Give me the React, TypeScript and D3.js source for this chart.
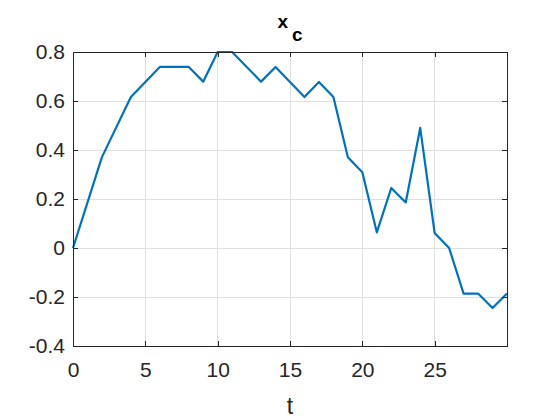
import React, { useEffect, useRef } from "react";
import * as d3 from "d3";

// sample times and values of x_c
const tValues = [0, 2, 4, 6, 8, 9, 10, 11, 13, 14, 16, 17, 18, 19, 20, 21, 22, 23, 24, 25, 26, 27, 28, 29, 30];
const xcValues = [0, 0.371, 0.616, 0.739, 0.739, 0.679, 0.8, 0.8, 0.679, 0.739, 0.616, 0.678, 0.616, 0.37, 0.309, 0.064, 0.245, 0.186, 0.49, 0.061, 0, -0.186, -0.186, -0.245, -0.186];
const xTicks = [0, 5, 10, 15, 20, 25];
const yTicks = [-0.4, -0.2, 0, 0.2, 0.4, 0.6, 0.8];

const App = () => {
  const ref = useRef<SVGSVGElement>(null);

  useEffect(() => {
    const width = 560, height = 420;
    const margin = { top: 52, right: 53, bottom: 74, left: 73 };
    const w = width - margin.left - margin.right;
    const h = height - margin.top - margin.bottom;
    const font = "'Liberation Sans', Arial, sans-serif";
    const axisColor = "#262626";

    const svg = d3.select(ref.current);
    svg.selectAll("*").remove();

    const g = svg.append("g").attr("transform", "translate(" + margin.left + "," + margin.top + ")");

    const x = d3.scaleLinear().domain([0, 30]).range([0, w]);
    const y = d3.scaleLinear().domain([-0.4, 0.8]).range([h, 0]);

    // grid
    g.append("g").selectAll("line").data(xTicks.filter(d => d > 0)).enter().append("line")
      .attr("x1", d => x(d)).attr("x2", d => x(d)).attr("y1", 0).attr("y2", h)
      .attr("stroke", "#dfdfdf").attr("stroke-width", 1).attr("shape-rendering", "crispEdges");
    g.append("g").selectAll("line").data(yTicks.filter(d => d > -0.4 && d < 0.8)).enter().append("line")
      .attr("x1", 0).attr("x2", w).attr("y1", d => y(d)).attr("y2", d => y(d))
      .attr("stroke", "#dfdfdf").attr("stroke-width", 1).attr("shape-rendering", "crispEdges");

    // line
    const data = tValues.map((t, i) => [t, xcValues[i]] as [number, number]);
    g.append("path").datum(data)
      .attr("fill", "none").attr("stroke", "#0072BD").attr("stroke-width", 2.2)
      .attr("stroke-linejoin", "round")
      .attr("d", d3.line<[number, number]>().x(d => x(d[0])).y(d => y(d[1])));

    // axes (ticks inward, mirrored on the box)
    const styleAxis = (sel: any) => {
      sel.select(".domain").remove();
      sel.selectAll("line").attr("stroke", axisColor).attr("shape-rendering", "crispEdges");
      sel.selectAll("text").attr("fill", axisColor).style("font-family", font).style("font-size", "21px");
    };
    const fmtY = (d: any) => String(+d);  // plain hyphen minus, like the original
    g.append("g").attr("transform", "translate(0," + h + ")")
      .call(d3.axisBottom(x).tickValues(xTicks).tickSize(-5).tickPadding(16).tickFormat(d3.format("d")))
      .call(styleAxis);
    g.append("g")
      .call(d3.axisTop(x).tickValues(xTicks).tickSize(-5).tickFormat(() => ""))
      .call(styleAxis);
    g.append("g")
      .call(d3.axisLeft(y).tickValues(yTicks).tickSize(-5).tickPadding(8).tickFormat(fmtY))
      .call(styleAxis);
    g.append("g").attr("transform", "translate(" + w + ",0)")
      .call(d3.axisRight(y).tickValues(yTicks).tickSize(-5).tickFormat(() => ""))
      .call(styleAxis);

    g.append("rect").attr("width", w).attr("height", h)
      .attr("fill", "none").attr("stroke", axisColor).attr("stroke-width", 1).attr("shape-rendering", "crispEdges");

    // labels
    g.append("text").attr("x", w / 2).attr("y", h + 68).attr("text-anchor", "middle")
      .attr("fill", axisColor).style("font-family", font).style("font-size", "23px").text("t");

    const title = g.append("text").attr("x", w / 2).attr("y", -24).attr("text-anchor", "middle")
      .attr("fill", "#000").style("font-family", font).style("font-size", "19px").style("font-weight", "bold");
    title.append("tspan").text("x");
    title.append("tspan").attr("dx", 4).attr("dy", 13).text("c");
  }, []);

  return <svg ref={ref} width={560} height={420} style={{ position: "absolute", left: 0, top: 0, background: "#fff" }} />;
};

export default App;
